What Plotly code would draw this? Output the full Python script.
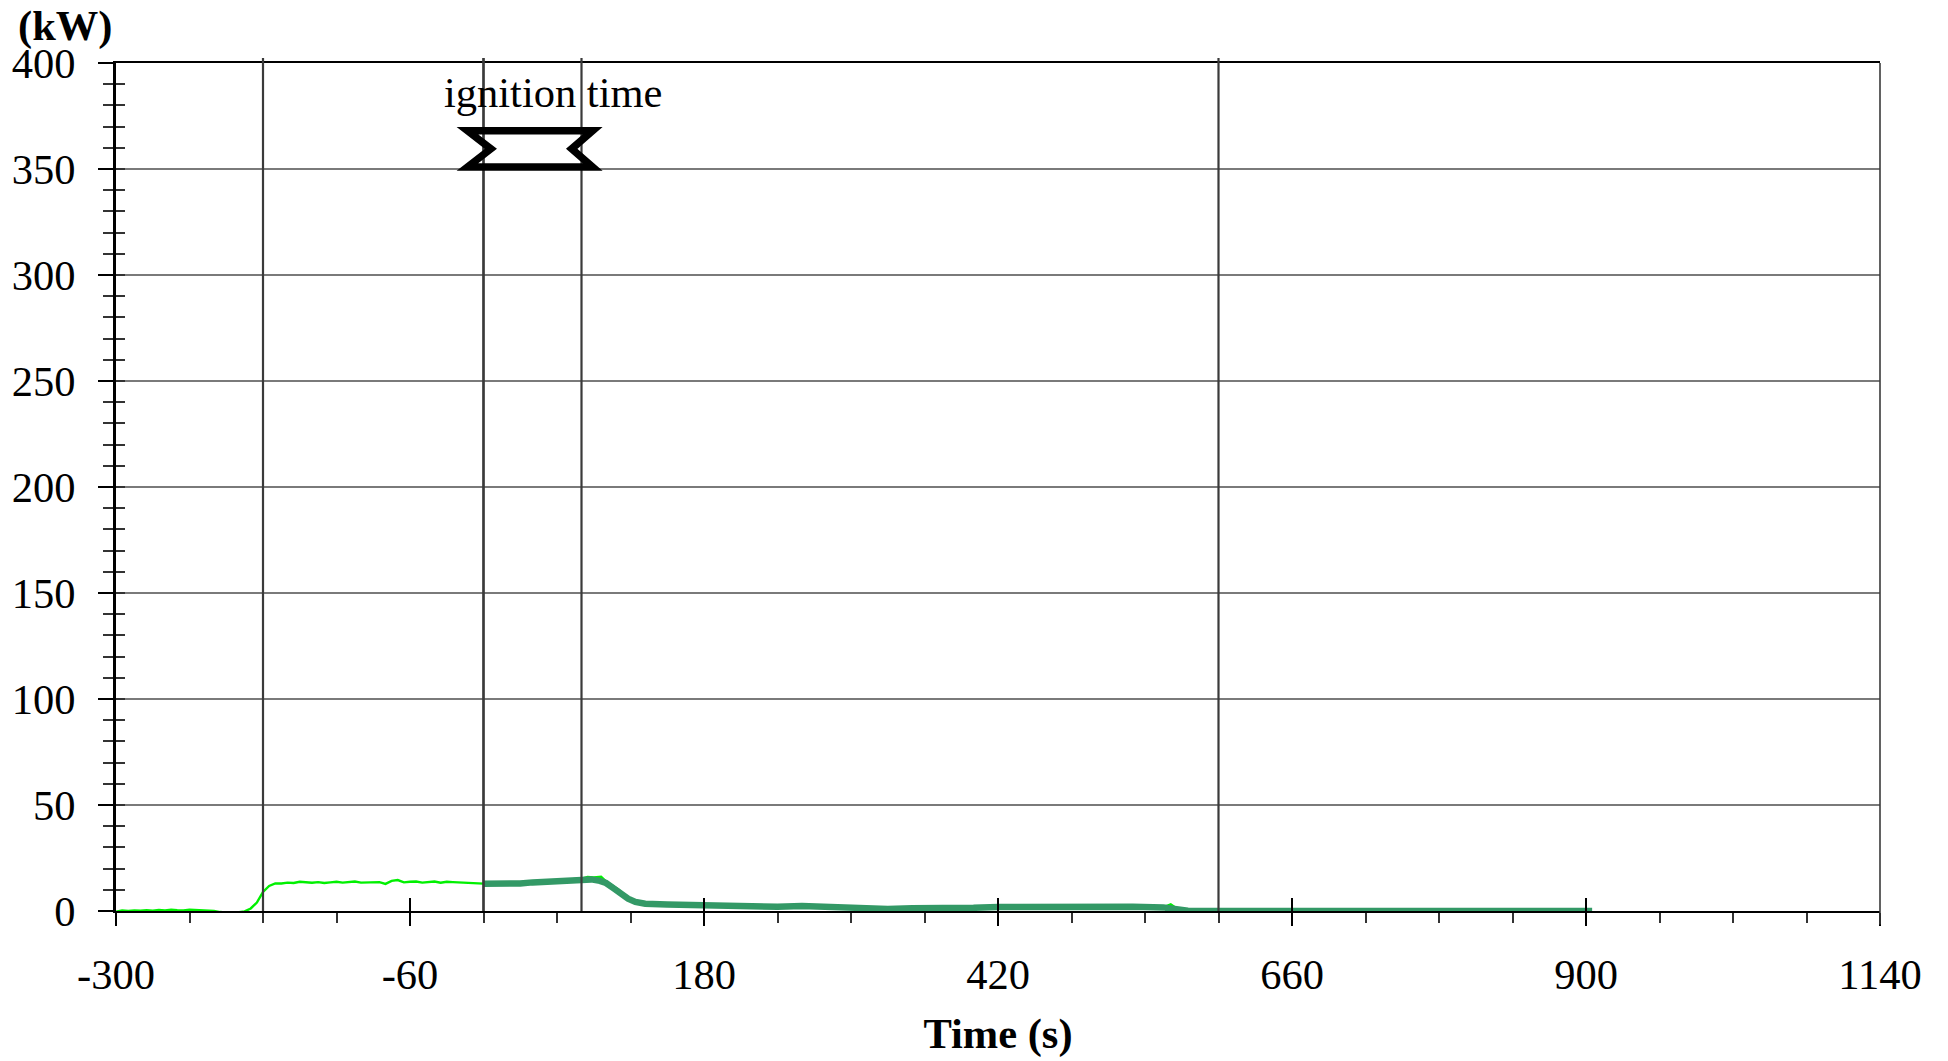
import plotly.graph_objects as go

# ---------------- data ----------------
# bright green trace (thin)
t_light = [-300, -295, -290, -285, -280, -275, -270, -265, -260, -255, -250, -245, -240, -235, -230,
           -225, -220, -215, -210, -205, -200, -195, -190, -185, -180, -175, -170, -165, -160, -155,
           -150, -145, -140, -135, -130, -125, -120, -115, -110, -105, -100, -95, -90, -85, -80,
           -75, -70, -65, -60, -55, -50, -45, -40, -35, -30, -25, -20, -15, -10, -5, 0,
           10, 20, 30, 40, 50, 60, 70, 80, 85, 90, 96, 100, 110, 120, 130, 140, 160, 180, 200,
           220, 240, 260, 280, 300, 320, 340, 360, 380, 400, 420, 440, 460, 480, 500, 520, 540,
           555, 561, 565, 575, 580]
kw_light = [-0.3, 0.2, 0.0, 0.3, 0.1, 0.4, 0.2, 0.5, 0.3, 0.6, 0.4, 0.3, 0.6, 0.4, 0.5,
            0.2, 0.0, -0.5, -0.7, -0.8, -0.6, -0.2, 1.2, 4.0, 9.0, 11.8, 13.0, 13.0, 13.4, 13.2,
            13.8, 13.5, 13.3, 13.6, 13.2, 13.5, 13.8, 13.4, 13.7, 13.9, 13.4, 13.5, 13.3, 13.6, 12.8,
            14.2, 14.6, 13.5, 13.8, 13.9, 13.4, 13.7, 13.9, 13.3, 13.8, 13.6, 13.4, 13.5, 13.2, 13.0, 12.9,
            12.8, 12.5, 12.9, 13.4, 13.8, 14.2, 14.6, 15.3, 16.0, 15.8, 16.2, 14.0, 10.2, 5.0, 3.5, 3.2, 3.0, 2.5, 2.0,
            1.8, 2.0, 2.4, 2.0, 1.2, 0.8, 1.2, 1.2, 1.1, 1.5, 1.9, 2.0, 2.0, 2.2, 2.4, 2.2, 2.0,
            1.7, 3.1, 1.5, 0.2, 0.0]

# dark green trace (thick)
t_dark = [0, 10, 20, 30, 40, 50, 60, 70, 80, 88, 95, 100, 106, 112, 118, 124, 132, 150, 165, 180,
          200, 210, 240, 260, 275, 295, 310, 330, 350, 380, 400, 420, 450, 490, 530, 555, 565, 575,
          600, 700, 800, 905]
kw_dark = [12.9, 12.7, 12.5, 13.0, 13.5, 13.8, 14.2, 14.6, 15.3, 14.9, 14.2, 13.2, 10.8, 8.0, 5.8, 4.3, 3.4, 3.1, 2.9, 2.5,
           2.0, 1.9, 2.0, 2.4, 2.0, 1.2, 0.8, 1.0, 1.3, 1.1, 1.5, 1.9, 2.0, 2.4, 2.0, 1.7, 1.0, 0.1,
           0.0, 0.0, 0.0, 0.0]

# vertical reference lines (s)
event_lines = [-180, 0, 600]
ign_start = 0
ign_end = 80
ign_label = "ignition time"
ign_low, ign_high = 351, 368

x_ticks = [-300, -60, 180, 420, 660, 900, 1140]
y_ticks = [0, 50, 100, 150, 200, 250, 300, 350, 400]

FONT = "Liberation Serif"
FS = 42.5

fig = go.Figure()
fig.add_trace(go.Scatter(x=t_light, y=kw_light, mode="lines",
                         line=dict(color="#00f000", width=2.4), showlegend=False, xaxis="x", yaxis="y"))
fig.add_trace(go.Scatter(x=t_dark, y=kw_dark, mode="lines",
                         line=dict(color="#339966", width=6.5), showlegend=False, xaxis="x", yaxis="y"))

shapes = []
for xv in event_lines + [ign_start, ign_end]:
    shapes.append(dict(type="line", xref="x", yref="paper", x0=xv, x1=xv, y0=0, y1=1.006,
                       line=dict(color="#3a3a3a", width=2.2), layer="above"))
# right border
shapes.append(dict(type="line", xref="paper", yref="paper", x0=1, x1=1, y0=-0.016, y1=1,
                   line=dict(color="#3a3a3a", width=1.6), layer="above"))
# ignition time marker
mid = (ign_low + ign_high) / 2
path = (f"M {ign_start-13},{ign_high} L {ign_end+9},{ign_high} L {ign_end-8},{mid} "
        f"L {ign_end+9},{ign_low} L {ign_start-13},{ign_low} L {ign_start+6},{mid} Z")
shapes.append(dict(type="path", xref="x", yref="y", path=path,
                   line=dict(color="black", width=7.5), fillcolor="rgba(0,0,0,0)", layer="above"))

annotations = [
    dict(text=ign_label, x=57, y=386, xref="x", yref="y", showarrow=False,
         font=dict(family=FONT, size=FS, color="black"), xanchor="center", yanchor="middle"),
    dict(text="<b>(kW)</b>", x=0, y=1, xref="paper", yref="paper", showarrow=False,
         xanchor="right", yanchor="middle", xshift=-2, yshift=37,
         font=dict(family=FONT, size=FS, color="black")),
]

fig.update_layout(
    width=1948, height=1061,
    margin=dict(l=114, r=68, t=63, b=132),
    paper_bgcolor="white", plot_bgcolor="white",
    font=dict(family=FONT, size=FS, color="black"),
    shapes=shapes, annotations=annotations,
    xaxis=dict(range=[-300, 1140], tickmode="array", tickvals=x_ticks,
               ticktext=[str(v) for v in x_ticks],
               ticks="outside", ticklen=13, tickwidth=1.5, tickcolor="black",
               minor=dict(tickmode="linear", tick0=-300, dtick=60, ticks="outside",
                          ticklen=10, tickwidth=1.5, tickcolor="#333333", showgrid=False),
               showgrid=False, zeroline=False, showline=True, linecolor="black", linewidth=2,
               mirror=True, ticklabelstandoff=12,
               title=dict(text="<b>Time (s)</b>", font=dict(family=FONT, size=FS), standoff=21)),
    yaxis=dict(range=[0, 400], tickmode="array", tickvals=y_ticks,
               ticks="outside", ticklen=15, tickwidth=1.5, tickcolor="black",
               minor=dict(tickmode="linear", tick0=0, dtick=10, ticks="outside",
                          ticklen=10, tickwidth=1.5, tickcolor="#333333", showgrid=False),
               showgrid=True, gridcolor="#7a7a7a", gridwidth=1.6,
               zeroline=False, showline=True, linecolor="black", linewidth=3,
               ticklabelstandoff=14),
    xaxis2=dict(range=[-300, 1140], overlaying="x", tickmode="array", tickvals=x_ticks,
                ticks="inside", ticklen=13, tickwidth=1.5, tickcolor="black",
                showticklabels=False, showgrid=False, zeroline=False, showline=False, side="bottom"),
    yaxis2=dict(range=[0, 400], overlaying="y", tickmode="linear", tick0=0, dtick=10,
                ticks="inside", ticklen=9, tickwidth=1.5, tickcolor="#333333",
                showticklabels=False, showgrid=False, zeroline=False, showline=False, side="left"),
)
# invisible trace to activate the overlay axes
fig.add_trace(go.Scatter(x=[-300], y=[0], xaxis="x2", yaxis="y2", mode="markers",
                         marker=dict(opacity=0), showlegend=False, hoverinfo="skip"))

fig.write_html("out.html", config={"displayModeBar": False},
               post_script="document.body.style.margin='0';document.body.style.overflow='hidden';")
